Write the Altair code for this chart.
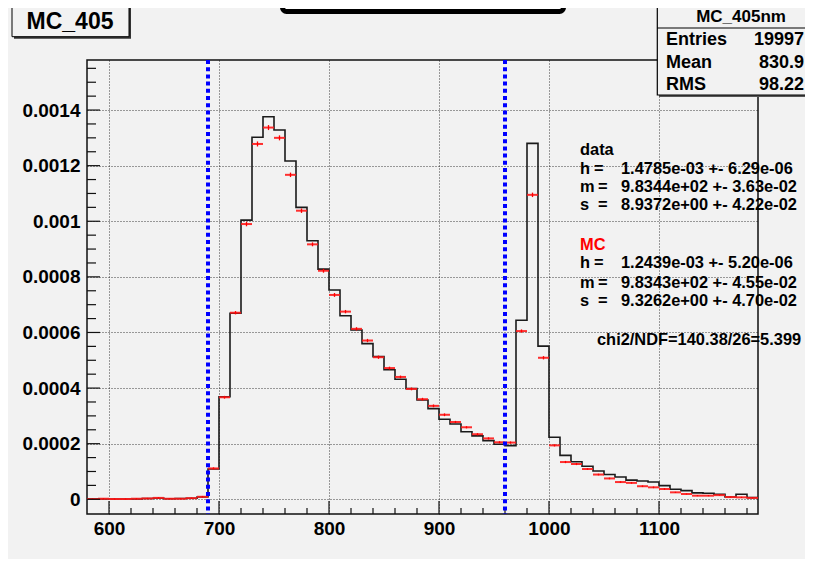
import altair as alt
import pandas as pd

# ---------------- data ----------------
bin_lo = [580, 590, 600, 610, 620, 630, 640, 650, 660, 670, 680, 690, 700, 710, 720,
          730, 740, 750, 760, 770, 780, 790, 800, 810, 820, 830, 840, 850, 860, 870,
          880, 890, 900, 910, 920, 930, 940, 950, 960, 970, 980, 990, 1000, 1010, 1020,
          1030, 1040, 1050, 1060, 1070, 1080, 1090, 1100, 1110, 1120, 1130, 1140, 1150,
          1160, 1170, 1180]
bin_width = 10

data_vals = [0.000001, 0.000001, 0.000001, 0.000001, 0.000001, 0.000003, 0.000004, 0.000002,
             0.000003, 0.000004, 0.000008, 0.000109, 0.000369, 0.000669, 0.001004, 0.001302,
             0.001376, 0.001328, 0.001217, 0.001050, 0.000930, 0.000828, 0.000753, 0.000660,
             0.000609, 0.000560, 0.000513, 0.000466, 0.000432, 0.000398, 0.000357, 0.000326,
             0.000288, 0.000271, 0.000243, 0.000228, 0.000211, 0.000198, 0.000193, 0.000644,
             0.001280, 0.000551, 0.000223, 0.000158, 0.000135, 0.000119, 0.000102, 0.000089,
             0.000080, 0.000069, 0.000066, 0.000062, 0.000049, 0.000036, 0.000031, 0.000023,
             0.000022, 0.000018, 0.000008, 0.000018, 0.000006]

mc_vals = [0.000001, 0.000002, 0.000001, 0.000001, 0.000002, 0.000003, 0.000005, 0.000002,
           0.000002, 0.000004, 0.000009, 0.000111, 0.000367, 0.000671, 0.000990, 0.001278,
           0.001337, 0.001300, 0.001167, 0.001038, 0.000917, 0.000822, 0.000735, 0.000675,
           0.000613, 0.000571, 0.000511, 0.000472, 0.000440, 0.000397, 0.000360, 0.000336,
           0.000304, 0.000278, 0.000259, 0.000234, 0.000219, 0.000205, 0.000204, 0.000605,
           0.001095, 0.000509, 0.000194, 0.000134, 0.000127, 0.000109, 0.000089, 0.000075,
           0.000062, 0.000059, 0.000047, 0.000043, 0.000037, 0.000025, 0.000019, 0.000013,
           0.000013, 0.000015, 0.000008, 0.000007, 0.000005]

mc_err = [0.000002, 0.000002, 0.000002, 0.000002, 0.000002, 0.000002, 0.000003, 0.000002,
          0.000002, 0.000002, 0.000003, 0.000004, 0.000005, 0.000006, 0.000008, 0.000009,
          0.000009, 0.000009, 0.000008, 0.000008, 0.000007, 0.000007, 0.000007, 0.000006,
          0.000006, 0.000006, 0.000006, 0.000005, 0.000005, 0.000005, 0.000005, 0.000005,
          0.000005, 0.000004, 0.000004, 0.000004, 0.000004, 0.000004, 0.000004, 0.000006,
          0.000008, 0.000006, 0.000004, 0.000004, 0.000004, 0.000003, 0.000003, 0.000003,
          0.000003, 0.000003, 0.000003, 0.000003, 0.000003, 0.000002, 0.000002, 0.000002,
          0.000002, 0.000002, 0.000002, 0.000002, 0.000002]

cut_lines = [690, 960]

x_major = [600, 700, 800, 900, 1000, 1100]
x_minor = [620, 640, 660, 680, 720, 740, 760, 780, 820, 840, 860, 880, 920, 940, 960,
           980, 1020, 1040, 1060, 1080, 1120, 1140, 1160, 1180]
y_major = [0, 0.0002, 0.0004, 0.0006, 0.0008, 0.001, 0.0012, 0.0014]
y_minor = [0.00005, 0.0001, 0.00015, 0.00025, 0.0003, 0.00035, 0.00045, 0.0005, 0.00055,
           0.00065, 0.0007, 0.00075, 0.00085, 0.0009, 0.00095, 0.00105, 0.0011, 0.00115,
           0.00125, 0.0013, 0.00135, 0.00145, 0.0015, 0.00155]

title_text = "MC_405"
stat_title = "MC_405nm"
stat_names = ["Entries", "Mean", "RMS"]
stat_values = ["19997", "830.9", "98.22"]
fit_names = ["h", "m", "s"]
fit_data_vals = ["1.4785e-03 +- 6.29e-06", "9.8344e+02 +- 3.63e-02", "8.9372e+00 +- 4.22e-02"]
fit_mc_vals = ["1.2439e-03 +- 5.20e-06", "9.8343e+02 +- 4.55e-02", "9.3262e+00 +- 4.70e-02"]
chi2_text = "chi2/NDF=140.38/26=5.399"

# ---------------- layout ----------------
W, H = 671, 454
FONT = "Liberation Sans"
xs = alt.Scale(domain=[580, 1190], nice=False, zero=False)
ys = alt.Scale(domain=[-0.0000529, 0.00158], nice=False, zero=False)

hist_df = pd.DataFrame({"x": bin_lo + [bin_lo[-1] + bin_width],
                        "y": data_vals + [data_vals[-1]]})
mc_df = pd.DataFrame({
    "lo": bin_lo,
    "hi": [b + bin_width for b in bin_lo],
    "c": [b + bin_width / 2 for b in bin_lo],
    "v": mc_vals,
    "vlo": [v - e for v, e in zip(mc_vals, mc_err)],
    "vhi": [v + e for v, e in zip(mc_vals, mc_err)],
})

x_axis = alt.Axis(values=x_major, format="d", grid=True, ticks=False, tickSize=0,
                  domain=False, labelFont=FONT, labelFontSize=19, labelFontWeight="bold",
                  labelColor="black", labelPadding=5, title=None, labelFlush=False,
                  gridColor="#000", gridDash=[1, 2], gridOpacity=0.75, gridWidth=1)
y_axis = alt.Axis(values=y_major, format="~g", grid=True, ticks=False, tickSize=0,
                  domain=False, labelFont=FONT, labelFontSize=19, labelFontWeight="bold",
                  labelColor="black", labelPadding=7, title=None, labelFlush=False,
                  gridColor="#000", gridDash=[1, 2], gridOpacity=0.75, gridWidth=1)

def X(f):
    return alt.X(f, scale=xs, axis=x_axis, title=None)

def Y(f):
    return alt.Y(f, scale=ys, axis=y_axis, title=None)

hist = alt.Chart(hist_df).mark_line(interpolate="step-after", color="#1a1a1a",
                                    strokeWidth=1.6).encode(x=X("x:Q"), y=Y("y:Q"))

mc_h = alt.Chart(mc_df).mark_rule(color="#ff1a1a", strokeWidth=2, opacity=0.9).encode(
    x=X("lo:Q"), x2="hi:Q", y=Y("v:Q"))
mc_v = alt.Chart(mc_df).mark_rule(color="#ff0000", strokeWidth=1.3).encode(
    x=X("c:Q"), y=Y("vlo:Q"), y2="vhi:Q")

def xticks(vals, length):
    return alt.Chart(pd.DataFrame({"v": vals})).mark_rule(color="#111", strokeWidth=1.2).encode(
        x=X("v:Q"), y=alt.value(H), y2=alt.value(H - length))

def yticks(vals, length):
    return alt.Chart(pd.DataFrame({"v": vals})).mark_rule(color="#111", strokeWidth=1.2).encode(
        y=Y("v:Q"), x=alt.value(0), x2=alt.value(length))

blue = alt.Chart(pd.DataFrame({"x": cut_lines})).mark_rule(
    color="#0000ff", strokeWidth=4, strokeDash=[4, 3.2]).encode(
    x=X("x:Q"), y=alt.value(0), y2=alt.value(H))

def box(x1, x2, y1, y2, fill, stroke=None, sw=1, radius=0):
    kw = dict(fill=fill, strokeWidth=sw, cornerRadius=radius)
    if stroke is not None:
        kw["stroke"] = stroke
    return alt.Chart(pd.DataFrame({"a": [0]})).mark_rect(**kw).encode(
        x=alt.value(x1), x2=alt.value(x2), y=alt.value(y1), y2=alt.value(y2))

def hline(x1, x2, y, color="#000", sw=1.2):
    return alt.Chart(pd.DataFrame({"a": [0]})).mark_rule(color=color, strokeWidth=sw).encode(
        x=alt.value(x1), x2=alt.value(x2), y=alt.value(y))

def txt(s, px, py, size=16.4, align="left", color="black", baseline="middle"):
    return alt.Chart(pd.DataFrame({"t": [s]})).mark_text(
        align=align, baseline=baseline, font=FONT, fontSize=size, fontWeight="bold",
        color=color).encode(x=alt.value(px), y=alt.value(py), text="t:N")

layers = [hist, mc_h, mc_v,
          xticks(x_major, 13), xticks(x_minor, 6), yticks(y_major, 13), yticks(y_minor, 9),
          blue]

# title box (top-left)
layers += [box(-73, 44, -54, -21.3, "#333"),
           box(-75, 42, -54, -23.3, "#f2f2f2", "#000", 1),
           txt(title_text, -17, -31.5, size=23, align="center", baseline="alphabetic")]
# cut-off top centre box
layers += [box(195.5, 476.5, -80, -48.5, "#ffffff", "#000", 5, 4)]
# stat box
layers += [box(572, 800, -52.3, 37, "#555"),
           box(570.3, 800, -54.3, 35, "#f2f2f2", "#000", 1.2),
           hline(570.3, 800, -32),
           txt(stat_title, 654, -43, size=17, align="center")]
for n, v, yy in zip(stat_names, stat_values, [-20, 3, 25]):
    layers += [txt(n, 579, yy, size=18), txt(v, 717, yy, size=18, align="right")]

# fit results
eq_x = [507, 511, 511]
layers += [txt("data", 493, 90)]
for n, v, yy, ex in zip(fit_names, fit_data_vals, [109.3, 126.7, 145], eq_x):
    layers += [txt(n, 493, yy), txt("=", ex, yy), txt(v, 534, yy)]
layers += [txt("MC", 493, 185, color="#ff0000")]
for n, v, yy, ex in zip(fit_names, fit_mc_vals, [203.3, 222.7, 240.7], eq_x):
    layers += [txt(n, 493, yy), txt("=", ex, yy), txt(v, 534, yy)]
layers += [txt(chi2_text, 510, 280)]

chart = alt.layer(*layers).properties(
    width=W, height=H,
    autosize=alt.AutoSizeParams(type="none"),
    padding={"left": 79, "top": 52, "right": 47, "bottom": 45},
    background="#f2f2f2",
).configure_view(stroke="#111", strokeWidth=1.5, fill="#f2f2f2")

chart.save("out.html", embed_options={"renderer": "svg", "actions": False})
